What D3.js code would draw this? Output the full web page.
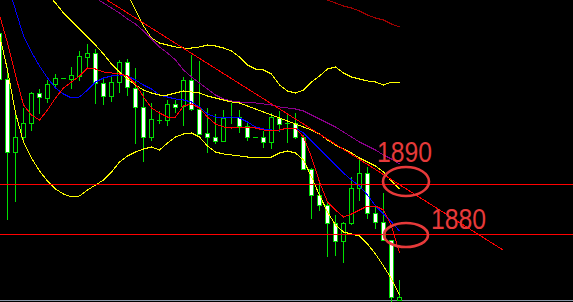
<!DOCTYPE html>
<html>
<head>
<meta charset="utf-8">
<script src="https://cdnjs.cloudflare.com/ajax/libs/d3/7.8.5/d3.min.js"></script>
<style>
  html, body { margin: 0; padding: 0; background: #000; overflow: hidden; }
</style>
</head>
<body>
<div id="chart"></div>
<script>
// Candles (price), one per bar
const opens  = [1920.2,1911.0,1896.4,1899.4,1902.2,1908.2,1907.2,1910.0,1911.2,1911.0,1911.6,1915.4,1916.2,1910.2,1907.6,1910.4,1914.4,1909.2,1905.4,1899.4,1902.8,1902.8,1906.0,1905.6,1910.8,1905.0,1900.2,1899.4,1898.6,1903.4,1903.4,1901.6,1899.4,1899.4,1898.4,1903.2,1902.2,1902.2,1899.4,1893.0,1887.8,1885.8,1882.2,1878.6,1882.2,1889.2,1892.2,1884.2,1882.4,1878.8,1866.8];
const highs  = [1921.8,1913.4,1904.2,1905.2,1908.4,1909.0,1910.8,1912.0,1911.2,1913.4,1916.6,1918.0,1917.0,1911.4,1911.8,1914.8,1915.0,1913.2,1908.4,1906.2,1904.6,1906.8,1906.8,1911.4,1915.8,1914.6,1905.2,1904.0,1904.8,1906.2,1904.8,1902.2,1899.4,1900.6,1904.2,1904.6,1903.8,1904.2,1899.8,1893.2,1890.4,1886.2,1883.8,1882.4,1891.4,1895.0,1893.4,1885.8,1888.2,1878.8,1870.8];
const lows   = [1910.4,1883.0,1886.6,1898.4,1900.8,1904.2,1906.4,1909.2,1911.2,1909.2,1910.8,1913.4,1906.2,1906.0,1906.6,1908.4,1907.8,1898.2,1894.6,1898.8,1902.2,1901.8,1904.4,1901.8,1904.8,1900.0,1896.4,1898.2,1898.6,1902.2,1900.4,1898.8,1899.4,1897.4,1897.2,1900.6,1898.4,1899.2,1893.0,1883.2,1884.8,1875.6,1875.8,1874.4,1882.0,1886.8,1883.2,1881.2,1878.8,1866.6,1866.8];
const closes = [1911.0,1896.4,1899.4,1902.2,1908.2,1907.4,1910.0,1911.2,1911.2,1911.8,1915.6,1916.2,1910.2,1907.6,1910.4,1914.4,1909.4,1905.4,1899.4,1903.0,1902.8,1906.0,1905.4,1910.8,1905.0,1900.0,1899.4,1898.6,1903.2,1903.4,1901.6,1899.4,1899.4,1898.4,1903.4,1902.0,1902.2,1899.4,1893.0,1887.8,1885.8,1882.2,1878.6,1882.2,1889.2,1892.2,1884.2,1882.4,1878.8,1867.4,1867.4];

// Indicator lines (price per bar, null = not shown)
const maFast = [1923.8,1918.2,1911.8,1905.8,1903.8,1902.8,1904.8,1907.2,1909.2,1910.4,1911.6,1913.2,1913.0,1912.4,1912.2,1912.0,1911.6,1910.0,1907.4,1905.2,1904.2,1903.4,1903.4,1905.6,1906.0,1905.2,1903.4,1902.0,1901.4,1901.2,1901.4,1901.4,1901.2,1900.8,1900.6,1900.8,1901.2,1901.2,1899.4,1895.4,1890.4,1886.4,1884.8,1883.4,1884.0,1884.8,1885.6,1885.6,1884.8,1881.6,1876.2];
const maMid = [1935.8,1930.2,1924.8,1919.6,1916.4,1913.6,1911.2,1909.2,1908.0,1907.2,1907.4,1908.8,1910.4,1911.2,1911.6,1911.8,1911.6,1910.8,1909.8,1909.0,1907.8,1907.4,1907.0,1906.8,1906.4,1905.4,1904.0,1903.4,1903.2,1903.4,1903.2,1902.4,1901.4,1901.0,1900.8,1900.8,1901.2,1901.2,1900.2,1898.6,1897.0,1895.4,1893.8,1892.2,1890.8,1889.6,1887.8,1885.6,1884.0,1882.4,1880.6];
const maSlow = [null,null,null,null,null,null,null,null,null,null,null,1928.2,1927.2,1926.2,1925.2,1924.2,1923.0,1922.0,1920.6,1919.0,1917.4,1916.2,1914.8,1912.8,1911.4,1910.2,1909.0,1907.8,1907.0,1906.6,1906.4,1906.4,1906.2,1906.0,1905.8,1905.4,1905.2,1905.0,1904.6,1903.8,1903.0,1902.2,1901.4,1900.4,1899.4,1898.4,1897.6,1896.8,1895.8,1895.0,1894.0];
const maLong = [null,null,null,null,null,null,null,null,null,null,null,null,null,null,null,null,null,null,null,null,null,null,null,null,null,null,null,null,null,null,null,null,null,null,null,null,null,null,null,null,1927.4,1926.8,1926.2,1925.6,1925.2,1924.6,1923.8,1923.2,1922.8,1922.0,1921.4];
const bbUpper = [null,null,null,null,null,null,null,null,null,null,null,null,null,null,null,1930.8,1928.0,1924.8,1921.6,1919.2,1918.2,1917.8,1917.4,1917.2,1917.2,1917.4,1917.8,1917.6,1917.2,1916.6,1915.4,1913.8,1913.0,1912.8,1912.0,1909.8,1908.6,1908.2,1908.8,1910.4,1911.6,1913.0,1913.4,1912.2,1911.4,1911.0,1910.6,1910.4,1909.8,1910.4,1910.4];
const bbMiddle = [null,null,null,null,null,null,1928.0,1926.2,1924.2,1922.6,1921.0,1919.4,1917.8,1916.0,1914.0,1912.4,1911.0,1909.8,1908.8,1908.2,1907.8,1907.8,1908.2,1908.6,1908.4,1908.2,1907.6,1907.2,1906.8,1906.4,1906.2,1905.6,1905.0,1904.4,1903.8,1903.2,1902.6,1902.0,1901.4,1900.8,1900.0,1898.8,1897.8,1897.0,1896.2,1895.2,1894.4,1893.6,1892.4,1890.6,1889.0];
const bbLower = [1919.8,1912.8,1904.2,1898.4,1895.2,1892.6,1890.6,1889.0,1888.0,1887.4,1887.6,1888.8,1889.8,1890.8,1892.4,1894.4,1895.6,1896.4,1897.0,1897.4,1896.8,1898.2,1899.4,1900.0,1900.2,1899.4,1897.6,1896.4,1896.0,1895.8,1895.6,1895.4,1895.4,1895.2,1895.4,1896.2,1896.6,1896.2,1894.8,1891.4,1887.8,1884.4,1881.8,1880.4,1880.0,1879.6,1878.0,1876.0,1873.6,1871.0,1867.8];

// Annotations
const levels = [1890, 1880];
const levelLabels = ["1890", "1880"];
const trendBars = [13.5, 63];
const trendPrices = [1926.8, 1876.8];

const W = 573, H = 302;
const svg = d3.select("#chart").append("svg")
  .attr("width", W)
  .attr("height", H)
  .style("display", "block")
  .style("background", "#000");

const x = d3.scaleLinear().domain([0, 50]).range([-1, 399]);
const y = d3.scaleLinear().domain([1880, 1890]).range([234, 184]);

const plot = svg.append("g").attr("shape-rendering", "crispEdges");

// bottom border
plot.append("line")
  .attr("x1", 0).attr("x2", W)
  .attr("y1", 300.5).attr("y2", 300.5)
  .attr("stroke", "#8a96a6");

// candles
const bars = d3.range(opens.length).map(i => ({
  i, o: opens[i], h: highs[i], l: lows[i], c: closes[i]
}));
const green = "#00e000";

const candle = plot.selectAll("g.candle")
  .data(bars)
  .enter()
  .append("g")
  .attr("class", "candle");

candle.append("line")
  .attr("x1", d => Math.round(x(d.i)) + 0.5)
  .attr("x2", d => Math.round(x(d.i)) + 0.5)
  .attr("y1", d => Math.round(y(d.h)))
  .attr("y2", d => Math.round(y(d.l)) + 1)
  .attr("stroke", green);

candle.each(function(d) {
  const g = d3.select(this);
  const cx = Math.round(x(d.i));
  const top = Math.round(y(Math.max(d.o, d.c)));
  const bot = Math.round(y(Math.min(d.o, d.c)));
  if (bot - top < 1) {
    g.append("line")
      .attr("x1", cx - 2).attr("x2", cx + 3)
      .attr("y1", top + 0.5).attr("y2", top + 0.5)
      .attr("stroke", green);
  } else {
    g.append("rect")
      .attr("x", cx - 1.5)
      .attr("y", top + 0.5)
      .attr("width", 4)
      .attr("height", bot - top)
      .attr("fill", d.c < d.o ? "#fff" : "#000")
      .attr("stroke", green);
  }
});

// indicator lines
const line = d3.line()
  .defined(d => d != null)
  .x((d, i) => x(i) + 0.5)
  .y(d => y(d));

const series = [
  { values: bbLower, color: "#ffff00" },
  { values: bbUpper, color: "#ffff00" },
  { values: maLong, color: "#a00000" },
  { values: maSlow, color: "#8b008b" },
  { values: maMid, color: "#0000ff" },
  { values: bbMiddle, color: "#ffff00" },
  { values: maFast, color: "#ff0000" }
];

plot.selectAll("path.ind")
  .data(series)
  .enter()
  .append("path")
  .attr("class", "ind")
  .attr("d", d => line(d.values))
  .attr("fill", "none")
  .attr("stroke", d => d.color)
  .attr("stroke-width", 1);

// trend line
plot.append("line")
  .attr("x1", x(trendBars[0])).attr("y1", y(trendPrices[0]))
  .attr("x2", x(trendBars[1])).attr("y2", y(trendPrices[1]))
  .attr("stroke", "#ff0000")
  .attr("stroke-width", 1);

// horizontal levels
plot.selectAll("line.level")
  .data(levels)
  .enter()
  .append("line")
  .attr("class", "level")
  .attr("x1", 0).attr("x2", W)
  .attr("y1", d => Math.round(y(d)) + 0.5)
  .attr("y2", d => Math.round(y(d)) + 0.5)
  .attr("stroke", "#ff0000")
  .attr("stroke-width", 1);

// ellipse marks and labels
const markColor = "#e63a3a";
const marks = svg.append("g");

marks.selectAll("ellipse")
  .data(levels)
  .enter()
  .append("ellipse")
  .attr("cx", 406)
  .attr("cy", (d, i) => y(d) + (i === 0 ? -2.5 : 1))
  .attr("rx", (d, i) => i === 0 ? 23 : 22)
  .attr("ry", (d, i) => i === 0 ? 14.5 : 12)
  .attr("fill", "none")
  .attr("stroke", markColor)
  .attr("stroke-width", 2.6);

marks.selectAll("text")
  .data(levels)
  .enter()
  .append("text")
  .attr("x", (d, i) => i === 0 ? 377 : 431)
  .attr("y", (d, i) => i === 0 ? y(d) - 22 : y(d) - 5)
  .attr("font-family", "Liberation Sans, Arial, sans-serif")
  .attr("font-size", 29)
  .attr("textLength", 55)
  .attr("lengthAdjust", "spacingAndGlyphs")
  .attr("fill", markColor)
  .text((d, i) => levelLabels[i]);
</script>
</body>
</html>
